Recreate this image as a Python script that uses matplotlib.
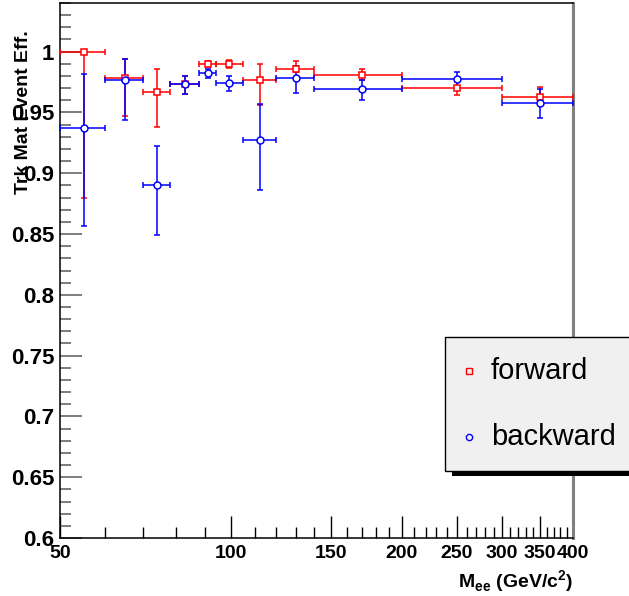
import matplotlib
matplotlib.use("Agg")
import matplotlib.pyplot as plt
import matplotlib.ticker as ticker
from matplotlib.patches import Rectangle
from matplotlib.lines import Line2D
import numpy as np

plt.rcParams["font.family"] = ["Liberation Sans", "DejaVu Sans"]
plt.rcParams["mathtext.fontset"] = "custom"
plt.rcParams["mathtext.rm"] = "Liberation Sans:bold"
plt.rcParams["mathtext.bf"] = "Liberation Sans:bold"

# Mass bins (GeV/c^2)
bin_lo = [50, 60, 70, 78, 88, 94, 105, 120, 140, 200, 300]
bin_hi = [60, 70, 78, 88, 94, 105, 120, 140, 200, 300, 400]
bin_center = [55, 65, 74, 83, 91, 99, 112.5, 130, 170, 250, 350]

# forward efficiency and asymmetric errors
fwd_eff = [1.000, 0.978, 0.967, 0.973, 0.990, 0.990, 0.977, 0.986, 0.981, 0.970, 0.963]
fwd_err_lo = [0.120, 0.031, 0.029, 0.008, 0.003, 0.0034, 0.021, 0.003, 0.004, 0.0056, 0.007]
fwd_err_hi = [0.000, 0.016, 0.019, 0.007, 0.002, 0.003, 0.013, 0.006, 0.005, 0.005, 0.008]

# backward efficiency and asymmetric errors
bwd_eff = [0.9376, 0.977, 0.8906, 0.973, 0.9822, 0.974, 0.9272, 0.9784, 0.969, 0.9776, 0.958]
bwd_err_lo = [0.081, 0.033, 0.041, 0.008, 0.0035, 0.0066, 0.041, 0.0126, 0.009, 0.006, 0.0128]
bwd_err_hi = [0.044, 0.017, 0.032, 0.007, 0.0033, 0.006, 0.030, 0.0096, 0.008, 0.006, 0.011]

RED = "#ff0000"
BLUE = "#0000ff"

fig = plt.figure(figsize=(6.29, 5.96), dpi=100)
ax = fig.add_axes([60 / 629, 1 - 538 / 596, 513 / 629, 535 / 596])

x = np.array(bin_center)
xerr = [x - np.array(bin_lo), np.array(bin_hi) - x]

for eff, lo, hi, col, mk in [
    (fwd_eff, fwd_err_lo, fwd_err_hi, RED, "s"),
    (bwd_eff, bwd_err_lo, bwd_err_hi, BLUE, "o"),
]:
    ax.errorbar(
        x, eff, xerr=xerr, yerr=[lo, hi],
        fmt=mk, color=col, ecolor=col, elinewidth=1.1, capsize=2.2, capthick=1.1,
        markersize=5, markerfacecolor="white", markeredgecolor=col, markeredgewidth=1.1,
        clip_on=False, zorder=3,
    )

ax.set_xscale("log")
ax.set_xlim(50, 400)
ax.set_ylim(0.6, 1.04)

xmajor = [50, 100, 150, 200, 250, 300, 350, 400]
ax.xaxis.set_major_locator(ticker.FixedLocator(xmajor))
ax.xaxis.set_major_formatter(ticker.FixedFormatter([str(v) for v in xmajor]))
xminor = [v for v in range(60, 400, 10) if v not in xmajor]
ax.xaxis.set_minor_locator(ticker.FixedLocator(xminor))
ax.xaxis.set_minor_formatter(ticker.NullFormatter())

ax.yaxis.set_major_locator(ticker.MultipleLocator(0.05))
ax.yaxis.set_minor_locator(ticker.MultipleLocator(0.01))
ax.yaxis.set_major_formatter(ticker.FuncFormatter(lambda v, p: f"{v:g}"))

ax.tick_params(axis="x", which="major", direction="in", length=16, width=1, color="black",
               labelsize=14, pad=5, top=False)
ax.tick_params(axis="x", which="minor", direction="in", length=8, width=1, color="black", top=False)
ax.tick_params(axis="y", which="major", direction="in", length=16, width=1.3, color="0.45",
               labelsize=16, pad=4, right=False)
ax.tick_params(axis="y", which="minor", direction="in", length=8, width=1.3, color="0.45", right=False)
for lab in ax.get_xticklabels() + ax.get_yticklabels():
    lab.set_fontweight("bold")

ax.spines["right"].set_color("0.5")
ax.spines["right"].set_linewidth(2.2)
for s in ["left", "top", "bottom"]:
    ax.spines[s].set_linewidth(1.1)

ax.text(-0.072, 0.9495, "Trk Mat Event Eff.", transform=ax.transAxes, rotation=90,
        ha="center", va="top", fontsize=14, fontweight="bold")
ax.text(1.0, -(588 - 538) / 535, r"M$_{\mathrm{ee}}$ (GeV/c$^{\mathrm{2}}$)", transform=ax.transAxes,
        ha="right", va="baseline", fontsize=14, fontweight="bold")

# legend box with ROOT style shadow
W, H = 629.0, 596.0
fig.add_artist(Rectangle((452 / W, 1 - 476 / H), 200 / W, 5 / H, transform=fig.transFigure,
                         facecolor="black", edgecolor="none", zorder=5))
fig.add_artist(Rectangle((445 / W, 1 - 471 / H), 200 / W, 134 / H, transform=fig.transFigure,
                         facecolor="#f0f0f0", edgecolor="black", linewidth=1, zorder=6))
for ypix, mk, col, label in [(371, "s", RED, "forward"), (437, "o", BLUE, "backward")]:
    fig.add_artist(Line2D([469 / W], [1 - ypix / H], marker=mk, markersize=4.5,
                          markerfacecolor="none", markeredgecolor=col, markeredgewidth=1,
                          linestyle="none", transform=fig.transFigure, zorder=7))
    fig.text(491 / W, 1 - ypix / H, label, fontsize=21, ha="left", va="center", zorder=7)

fig.savefig("out.png", dpi=100)
